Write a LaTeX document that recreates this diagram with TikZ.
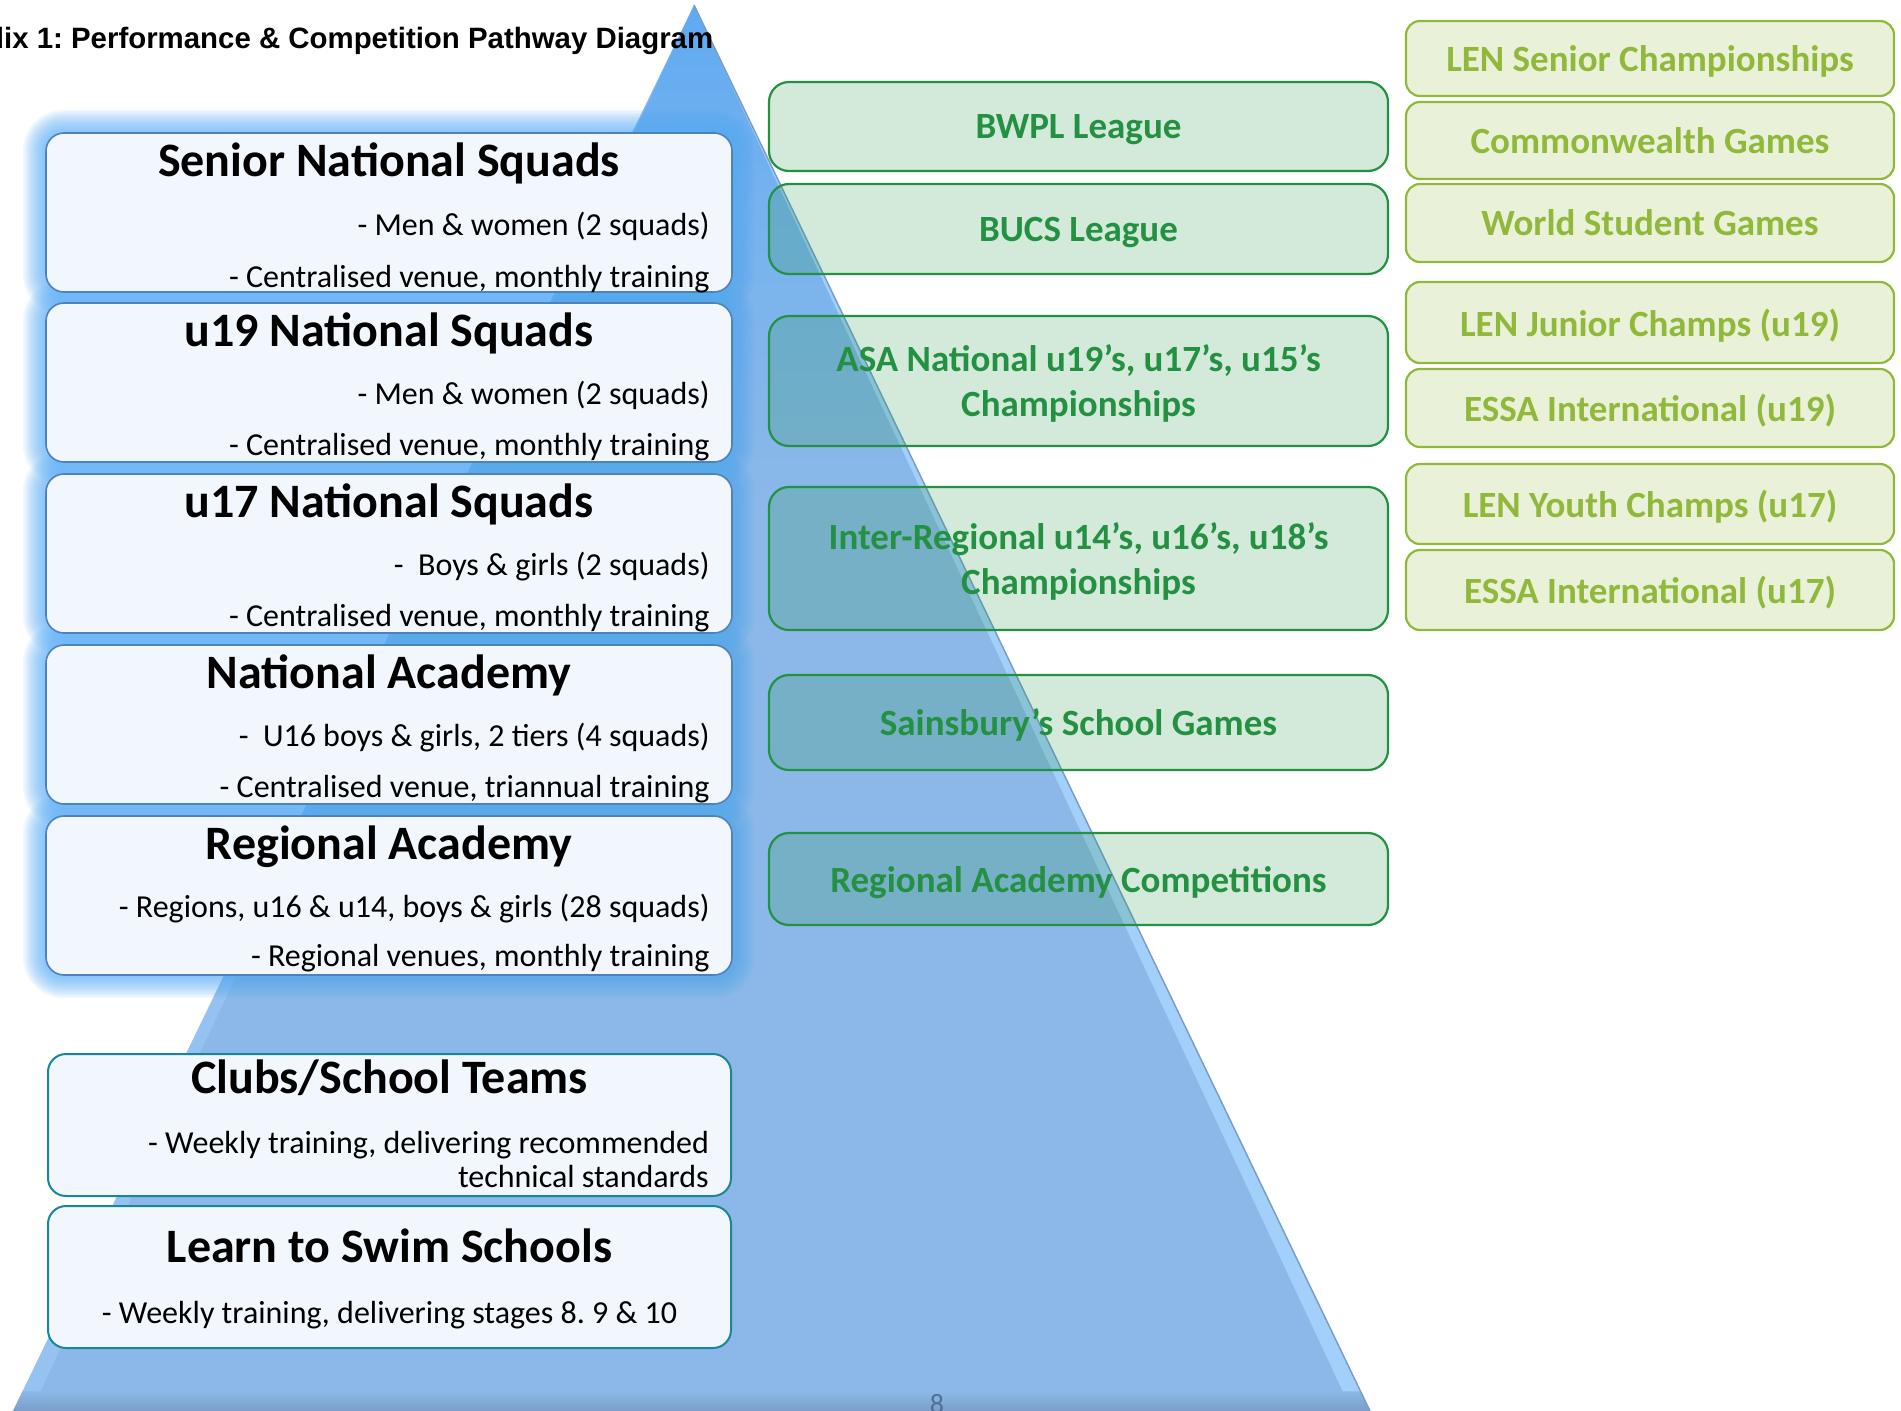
\documentclass[tikz,border=0pt]{standalone}
\usepackage{fontspec}
\setmainfont{Carlito}
\newfontfamily\titlefont{Liberation Sans}
\usetikzlibrary{calc}
\frenchspacing

\definecolor{lfill}{RGB}{242,246,253}
\definecolor{lblue}{RGB}{79,129,189}
\definecolor{glowblue}{RGB}{85,170,246}
\definecolor{cteal}{RGB}{25,135,155}
\definecolor{mgreen}{RGB}{35,145,65}
\definecolor{rolive}{RGB}{144,184,58}
\definecolor{ptop}{RGB}{95,170,242}
\definecolor{pmid}{RGB}{118,178,238}
\definecolor{pbot}{RGB}{139,184,232}
\definecolor{plight}{RGB}{170,215,255}
\definecolor{pdark}{RGB}{122,158,200}
\definecolor{pedge}{RGB}{120,158,200}
\definecolor{pnum}{RGB}{80,110,150}

\pgfdeclareverticalshading{pyr}{100bp}{color(0bp)=(pbot); color(25bp)=(pbot); color(57bp)=(pbot); color(68bp)=(pmid); color(75bp)=(ptop); color(100bp)=(ptop)}

\pgfdeclarelayer{pyramid}
\pgfdeclarelayer{glow}
\pgfsetlayers{pyramid,glow,main}

\begin{document}
\begin{tikzpicture}[x=1pt, y=-1pt,
  lbox/.style={draw=lblue, line width=1.6pt, fill=lfill, rounded corners=18pt, minimum width=686pt, minimum height=159pt, inner sep=0pt},
  cbox/.style={lbox, draw=cteal, line width=2pt, minimum width=683pt},
  mbox/.style={draw=mgreen, line width=2.2pt, fill=mgreen, fill opacity=0.2, text opacity=1, rounded corners=20pt, minimum width=619pt, inner sep=0pt, text depth=0pt, text=mgreen, align=center, font=\fontsize{37}{45}\selectfont\bfseries},
  rbox/.style={draw=rolive, line width=2.2pt, fill=rolive, fill opacity=0.2, text opacity=1, rounded corners=14pt, minimum width=488pt, inner sep=0pt, text depth=0pt, text=rolive, font=\fontsize{37}{45}\selectfont\bfseries},
  head/.style={anchor=base, inner sep=0pt, font=\fontsize{48}{56}\selectfont\bfseries},
  body/.style={anchor=base east, inner sep=0pt, font=\fontsize{32}{38}\selectfont}]
\useasboundingbox (0,0) rectangle (1901,1411);
\clip (0,0) rectangle (1901,1411);

\begin{pgfonlayer}{pyramid}
\coordinate (apex) at (694,5);
\coordinate (bl) at (13,1411);
\coordinate (br) at (1370,1411);
\shade[shading=pyr] (apex) -- (br) -- (bl) -- cycle;
\fill[plight, opacity=0.8] (apex) -- (br) -- ++(-18,0) -- cycle;
\fill[plight, opacity=0.35] (apex) -- (bl) -- ++(18,0) -- cycle;
\shade[top color=pbot, bottom color=pdark] ($(bl)!0.014!(apex)$) -- ($(br)!0.014!(apex)$) -- (br) -- (bl) -- cycle;
\draw[pedge, line width=1.5pt] (apex) -- (br);
\end{pgfonlayer}

\node[anchor=base west, inner sep=0pt, font=\titlefont\fontsize{29.4}{34}\selectfont\bfseries] (T) at (-14,48) {dix 1: Performance \& Competition Pathway Diagram};

\node[lbox] (L1) at (389,212.5) {};
\node[lbox] (L2) at (389,382.5) {};
\node[lbox] (L3) at (389,553.5) {};
\node[lbox] (L4) at (389,724.5) {};
\node[lbox] (L5) at (389,895.5) {};
\node[cbox, minimum height=142pt] (L6) at (389.5,1125) {};
\node[cbox, minimum height=142pt] (L7) at (389.5,1277) {};

\begin{pgfonlayer}{glow}
\foreach \n in {L1,L2,L3,L4,L5}{
  \foreach \g [evaluate=\g as \rc using 18+\g*1.4] in {1,...,16}{
    \fill[glowblue, opacity=0.065, rounded corners=\rc pt] ([shift={(-1.4*\g,-1.4*\g)}]\n.north west) rectangle ([shift={(1.4*\g,1.4*\g)}]\n.south east);
  }
}
\end{pgfonlayer}

\node[head] (L1H) at ($(L1.north)+(0,44)$) {Senior National Squads};
\node[body] (L1A) at ($(L1.north east)+(-23,103)$) {- Men \& women (2 squads)};
\node[body] (L1B) at ($(L1.north east)+(-23,155)$) {- Centralised venue, monthly training};
\node[head] (L2H) at ($(L2.north)+(0,44)$) {u19 National Squads};
\node[body] (L2A) at ($(L2.north east)+(-23,102)$) {- Men \& women (2 squads)};
\node[body] (L2B) at ($(L2.north east)+(-23,153)$) {- Centralised venue, monthly training};
\node[head] (L3H) at ($(L3.north)+(0,44)$) {u17 National Squads};
\node[body] (L3A) at ($(L3.north east)+(-23,102)$) {-~ Boys \& girls (2 squads)};
\node[body] (L3B) at ($(L3.north east)+(-23,153)$) {- Centralised venue, monthly training};
\node[head] (L4H) at ($(L4.north)+(0,44)$) {National Academy};
\node[body] (L4A) at ($(L4.north east)+(-23,102)$) {-~ U16 boys \& girls, 2 tiers (4 squads)};
\node[body] (L4B) at ($(L4.north east)+(-23,153)$) {- Centralised venue, triannual training};
\node[head] (L5H) at ($(L5.north)+(0,44)$) {Regional Academy};
\node[body] (L5A) at ($(L5.north east)+(-23,102)$) {- Regions, u16 \& u14, boys \& girls (28 squads)};
\node[body] (L5B) at ($(L5.north east)+(-23,151)$) {- Regional venues, monthly training};
\node[head] (L6H) at ($(L6.north)+(0,40)$) {Clubs/School Teams};
\node[body] (L6A) at ($(L6.north east)+(-23,100)$) {- Weekly training, delivering recommended};
\node[body] (L6B) at ($(L6.north east)+(-23,134)$) {technical standards};
\node[head] (L7H) at ($(L7.north)+(0,57)$) {Learn to Swim Schools};
\node[body, anchor=base] (L7A) at ($(L7.north)+(0,118)$) {- Weekly training, delivering stages 8. 9 \& 10};

\node[mbox, minimum height=89pt] (M1) at (1078.5,126.5) {BWPL League};
\node[mbox, minimum height=90pt] (M2) at (1078.5,229) {BUCS League};
\node[mbox, minimum height=130pt] (M3) at (1078.5,381) {ASA National u19’s, u17’s, u15’s\\Championships};
\node[mbox, minimum height=143pt] (M4) at (1078.5,558.5) {Inter-Regional u14’s, u16’s, u18’s\\Championships};
\node[mbox, minimum height=95pt] (M5) at (1078.5,722.5) {Sainsbury’s School Games};
\node[mbox, minimum height=92pt] (M6) at (1078.5,879) {Regional Academy Competitions};

\node[rbox, minimum height=75pt] (R1) at (1650,58.5) {LEN Senior Championships};
\node[rbox, minimum height=77pt] (R2) at (1650,140.5) {Commonwealth Games};
\node[rbox, minimum height=78pt] (R3) at (1650,223) {World Student Games};
\node[rbox, minimum height=81pt] (R4) at (1650,322.5) {LEN Junior Champs (u19)};
\node[rbox, minimum height=78pt] (R5) at (1650,408) {ESSA International (u19)};
\node[rbox, minimum height=80pt] (R6) at (1650,504) {LEN Youth Champs (u17)};
\node[rbox, minimum height=80pt] (R7) at (1650,590) {ESSA International (u17)};

\node[anchor=base, inner sep=0pt, text=pnum, font=\fontsize{28}{30}\selectfont] (P) at (937,1413) {8};
\end{tikzpicture}
\end{document}
